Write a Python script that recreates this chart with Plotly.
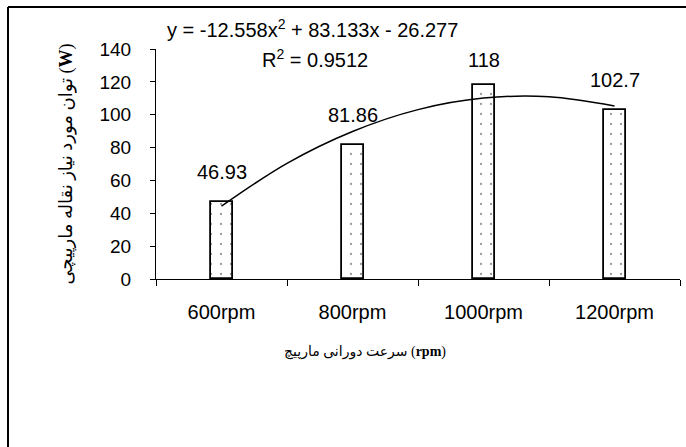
import plotly.graph_objects as go

categories = ["600rpm", "800rpm", "1000rpm", "1200rpm"]
power_w = [46.93, 81.86, 118, 102.7]
label_text = ["46.93", "81.86", "118", "102.7"]
# trendline values (x = category index, half steps)
trend_x = [1, 1.5, 2, 2.5, 3, 3.5, 4]
trend_y = [44.3, 70.4, 89.8, 103.1, 110.1, 110.9, 105.3]
y_ticks = [0, 20, 40, 60, 80, 100, 120, 140]
equation = "y = -12.558x<sup>2</sup> + 83.133x - 26.277"
r_squared = "R<sup>2</sup> = 0.9512"
x_title = "سرعت دورانی مارپیچ (<b>rpm</b>)"
y_title = "توان مورد نیاز نقاله مارپیچی (<b>W</b>)"

W, H = 686, 447
L, R, T, B = 156, 6, 49, 168
pw, ph = W - L - R, H - T - B


def px_x(p):
    return (p - L) / pw


def px_y(p):
    return 1 - (p - T) / ph


xpos = list(range(1, len(categories) + 1))

fig = go.Figure()
fig.add_trace(go.Bar(
    x=xpos, y=power_w, width=0.168,
    marker=dict(color="white", line=dict(color="black", width=1.8),
                pattern=dict(shape=".", size=10, solidity=0.04,
                             fgcolor="#333", bgcolor="white")),
    hoverinfo="skip", showlegend=False,
))
fig.add_trace(go.Scatter(
    x=trend_x, y=trend_y, mode="lines", line=dict(color="black", width=1.5, shape="spline"),
    hoverinfo="skip", showlegend=False,
))

label_shift = [17, 17, 12, 17]
for xi, v, t, s in zip(xpos, power_w, label_text, label_shift):
    fig.add_annotation(x=xi, y=v, text=t, showarrow=False, yanchor="bottom", yshift=s,
                       font=dict(family="Liberation Sans", size=20, color="black"))

fig.add_annotation(xref="paper", yref="paper", x=px_x(165), y=px_y(28), text=equation,
                   showarrow=False, xanchor="left", yanchor="middle",
                   font=dict(family="Liberation Sans", size=20, color="black"))
fig.add_annotation(xref="paper", yref="paper", x=px_x(260), y=px_y(59), text=r_squared,
                   showarrow=False, xanchor="left", yanchor="middle",
                   font=dict(family="Liberation Sans", size=20, color="black"))
fig.add_annotation(xref="paper", yref="paper", x=px_x(365), y=px_y(352), text=x_title,
                   showarrow=False, xanchor="center", yanchor="middle",
                   font=dict(family="Liberation Serif, DejaVu Sans", size=14, color="black"))

border = dict(color="black", width=2)
fig.add_shape(type="line", xref="paper", yref="paper",
              x0=px_x(8), x1=px_x(8), y0=px_y(447), y1=px_y(7), line=border)
fig.add_shape(type="line", xref="paper", yref="paper",
              x0=px_x(8), x1=px_x(686), y0=px_y(7), y1=px_y(7), line=border)

fig.update_layout(
    width=W, height=H, margin=dict(l=L, r=R, t=T, b=B),
    paper_bgcolor="white", plot_bgcolor="white", bargap=0,
    xaxis=dict(range=[0.5, 4.5], tickmode="array", tickvals=xpos, ticktext=categories,
               ticks="", showline=True, linecolor="black", linewidth=1, showgrid=False,
               zeroline=False, ticklabelstandoff=15,
               tickfont=dict(family="Liberation Sans", size=20, color="black"),
               minor=dict(tickmode="array", tickvals=[0.5, 1.5, 2.5, 3.5, 4.5],
                          ticks="outside", ticklen=6, tickcolor="black", tickwidth=1,
                          showgrid=False)),
    yaxis=dict(range=[0, 140], tickmode="array", tickvals=y_ticks, ticks="outside",
               ticklen=5, tickcolor="black", showline=True, linecolor="black", linewidth=1,
               showgrid=False, zeroline=False, ticklabelstandoff=15,
               tickfont=dict(family="Liberation Sans", size=19, color="black"),
               title=dict(text=y_title, standoff=22,
                          font=dict(family="Liberation Serif, DejaVu Sans", size=18, color="black"))),
)

fig.write_html("out.html", config={"displayModeBar": False},
               post_script="document.body.style.margin='0px';document.body.style.overflow='hidden';")
